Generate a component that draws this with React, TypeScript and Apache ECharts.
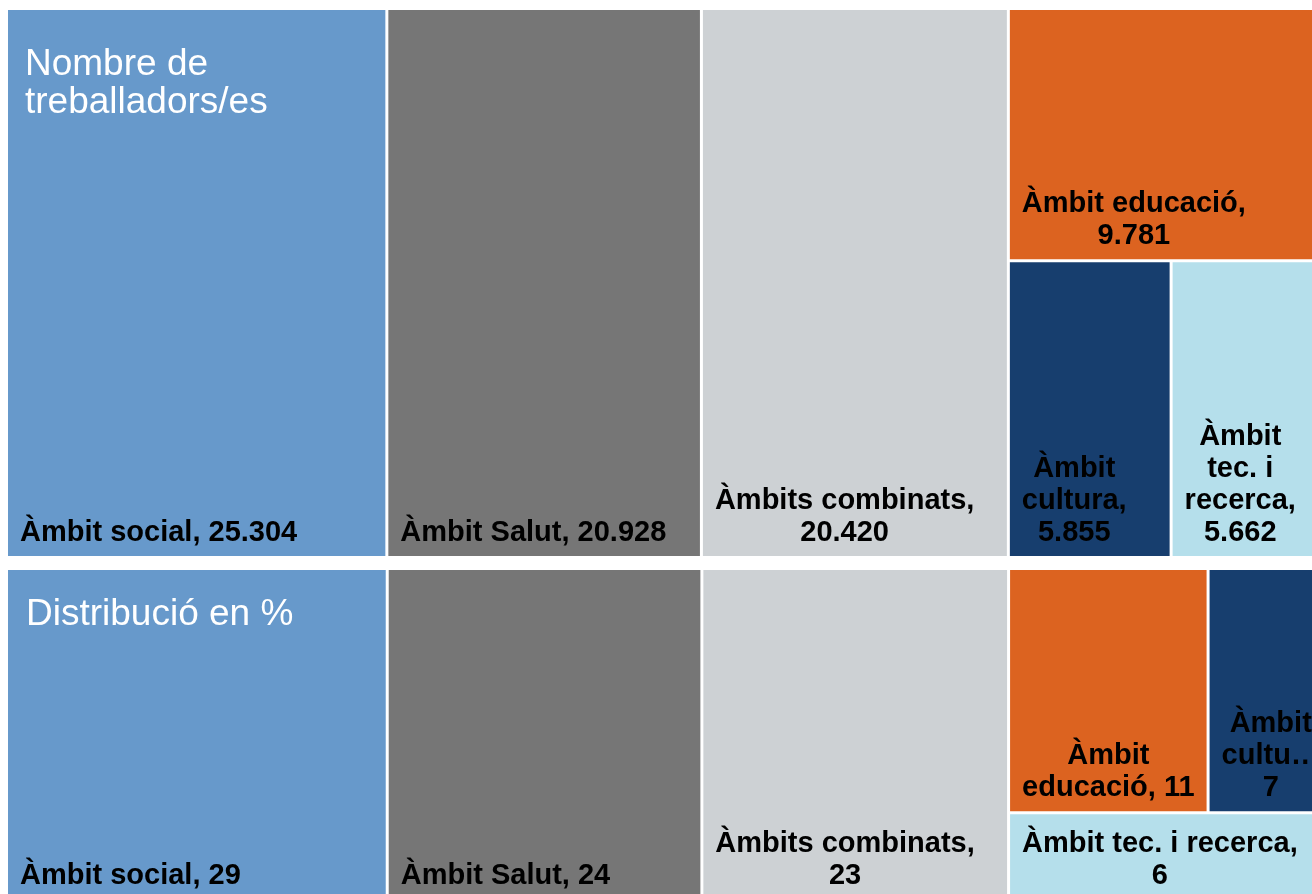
import React, { useEffect, useRef } from 'react';
import * as echarts from 'echarts';

// ---- data ----
const categories = ['Àmbit social', 'Àmbit Salut', 'Àmbits combinats', 'Àmbit educació', 'Àmbit cultura', 'Àmbit tec. i recerca'];
const workers = [25304, 20928, 20420, 9781, 5855, 5662];
const percents = [28.8, 23.8, 23.2, 11.1, 6.7, 6.4];
const colors = ['#6799CB', '#767676', '#CDD1D4', '#DC6320', '#173E6E', '#B5DFEB'];
const titles = ['Nombre de\ntreballadors/es', 'Distribució en %'];
// how each label wraps in the reference ({name} / {value} placeholders)
const workerLabelLayout = ['{name}, {value}', '{name}, {value}', '{name},\n{value}', '{name},\n{value}', 'Àmbit\ncultura,\n{value}', 'Àmbit\ntec. i\nrecerca,\n{value}'];
const percentLabelLayout = ['{name}, {value}', '{name}, {value}', '{name},\n{value}', 'Àmbit\neducació, {value}', 'Àmbit\ncultu…\n{value}', '{name},\n{value}'];

const FONT = '"Liberation Sans", Arial, Helvetica, sans-serif';
const LABEL_SIZE = 29;
const LABEL_LH = 32;
const INSET = 12;

function fmtThousands(v: number) {
  return String(v).replace(/\B(?=(\d{3})+(?!\d))/g, '.');
}
function fmtPercent(v: number) {
  return String(Math.round(v));
}

let measureCtx: CanvasRenderingContext2D | null = null;
function measure(text: string) {
  if (!measureCtx) measureCtx = document.createElement('canvas').getContext('2d');
  const c = measureCtx as CanvasRenderingContext2D;
  c.font = `bold ${LABEL_SIZE}px ${FONT}`;
  return Math.max(...text.split('\n').map((l) => c.measureText(l).width));
}

function buildData(values: number[], layout: string[], fmt: (v: number) => string) {
  return categories.map((name, i) => {
    const text = layout[i].replace('{name}', name).replace('{value}', fmt(values[i]));
    const w = measure(text);
    return {
      name,
      value: values[i],
      itemStyle: { color: colors[i] },
      label: { formatter: text, position: [INSET + w / 2, '100%'] },
    };
  });
}

export default function App() {
  const ref = useRef<HTMLDivElement>(null);
  useEffect(() => {
    document.documentElement.style.overflow = 'hidden';
    document.body.style.overflow = 'hidden';
    if (!ref.current) return;
    const chart = echarts.init(ref.current, null, { renderer: 'svg' });
    const base: any = {
      type: 'treemap',
      roam: false,
      nodeClick: false,
      silent: true,
      breadcrumb: { show: false },
      squareRatio: 1,
      sort: 'desc',
      left: 0,
      width: 1319,
      itemStyle: { gapWidth: 3, borderWidth: 0, borderColor: '#ffffff' },
      label: {
        show: true,
        color: '#000000',
        fontFamily: FONT,
        fontSize: LABEL_SIZE,
        fontWeight: 'bold',
        lineHeight: LABEL_LH,
        align: 'center',
        verticalAlign: 'bottom',
        offset: [0, -9],
        padding: 0,
        overflow: 'none',
      },
    };
    const titleStyle = {
      color: '#ffffff',
      fontFamily: FONT,
      fontWeight: 'normal' as const,
      fontSize: 37,
      lineHeight: 38,
    };
    chart.setOption({
      animation: false,
      title: [
        { text: titles[0], left: 17, top: 35, padding: 0, textStyle: titleStyle },
        { text: titles[1], left: 18, top: 585, padding: 0, textStyle: titleStyle },
      ],
      series: [
        { ...base, top: 2, height: 546, data: buildData(workers, workerLabelLayout, fmtThousands) },
        { ...base, top: 562, height: 329, data: buildData(percents, percentLabelLayout, fmtPercent) },
      ],
    });
    return () => chart.dispose();
  }, []);
  return (
    <div
      ref={ref}
      style={{ position: 'fixed', left: 8, top: 8, width: 1330, height: 900 }}
    />
  );
}
